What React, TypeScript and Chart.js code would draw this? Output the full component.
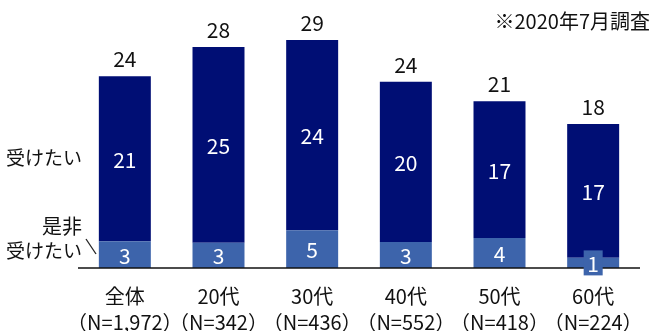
import React, { useEffect, useRef } from "react";
import { Chart, registerables } from "chart.js";

Chart.register(...registerables);

const categories = ["全体", "20代", "30代", "40代", "50代", "60代"];
const sampleSizes = ["（N=1,972）", "（N=342）", "（N=436）", "（N=552）", "（N=418）", "（N=224）"];
// 是非受けたい (bottom segment)
const eagerValues = [3.4, 3.2, 4.8, 3.3, 3.8, 1.3];
// 受けたい (top segment)
const wantValues = [21.0, 24.9, 24.2, 20.4, 17.4, 17.0];
const seriesNames = ["是非受けたい", "受けたい"];
const noteText = "※2020年7月調査";

const DARK = "#000e74";
const LIGHT = "#3d64ab";
const FONT = '"Noto Sans CJK JP", "Noto Sans", sans-serif';

const labelPlugin = {
  id: "customLabels",
  afterDatasetsDraw(chart: any) {
    const ctx = chart.ctx as CanvasRenderingContext2D;
    const area = chart.chartArea;
    const m0 = chart.getDatasetMeta(0);
    const m1 = chart.getDatasetMeta(1);
    ctx.save();

    // axis line
    ctx.strokeStyle = "#111";
    ctx.lineWidth = 1.6;
    ctx.beginPath();
    ctx.moveTo(area.left, area.bottom);
    ctx.lineTo(area.right, area.bottom);
    ctx.stroke();

    ctx.textAlign = "center";
    ctx.textBaseline = "middle";

    categories.forEach((cat, i) => {
      const b0 = m0.data[i];
      const b1 = m1.data[i];
      ctx.font = `21px ${FONT}`;
      // bottom segment label
      const mid0 = (b0.y + b0.base) / 2;
      const h0 = Math.abs(b0.base - b0.y);
      if (h0 < 20) {
        ctx.fillStyle = LIGHT;
        ctx.fillRect(b0.x - 9.5, mid0 - 12.5, 19, 25);
      }
      ctx.fillStyle = "#ffffff";
      ctx.fillText(String(Math.round(eagerValues[i])), b0.x, mid0 + 1);
      // top segment label
      const mid1 = (b1.y + b1.base) / 2;
      ctx.fillText(String(Math.round(wantValues[i])), b1.x, mid1 + 1);
      // total
      ctx.fillStyle = "#111";
      const total = eagerValues[i] + wantValues[i];
      ctx.fillText(String(Math.round(total)), b1.x, b1.y - 17);
      // x labels
      ctx.font = `20px ${FONT}`;
      ctx.fillText(cat, b1.x, area.bottom + 28);
      ctx.fillText(sampleSizes[i], b1.x, area.bottom + 54);
    });

    // series labels on the left
    ctx.textAlign = "right";
    ctx.fillStyle = "#111";
    const firstTop = m1.data[0];
    ctx.font = `19px ${FONT}`;
    ctx.fillText(seriesNames[1], 82, (firstTop.y + firstTop.base) / 2 - 1);
    ctx.font = `20px ${FONT}`;
    ctx.fillText("是非", 82, 226);
    ctx.font = `19px ${FONT}`;
    ctx.fillText("受けたい", 82, 251);
    ctx.strokeStyle = "#222";
    ctx.lineWidth = 1.3;
    ctx.beginPath();
    ctx.moveTo(86, 239);
    ctx.lineTo(96, 254);
    ctx.stroke();

    // note
    ctx.font = `20px ${FONT}`;
    ctx.textAlign = "right";
    ctx.fillText(noteText, 650, 21);
    ctx.restore();
  },
};

export default function App() {
  const ref = useRef<HTMLCanvasElement>(null);
  useEffect(() => {
    if (!ref.current) return;
    const chart = new Chart(ref.current, {
      type: "bar",
      data: {
        labels: categories,
        datasets: [
          {
            label: seriesNames[0],
            data: eagerValues,
            backgroundColor: LIGHT,
            borderWidth: 0,
            barPercentage: 0.555,
            categoryPercentage: 1,
          },
          {
            label: seriesNames[1],
            data: wantValues,
            backgroundColor: DARK,
            borderWidth: 0,
            barPercentage: 0.555,
            categoryPercentage: 1,
          },
        ],
      },
      options: {
        responsive: false,
        animation: false,
        layout: { padding: { left: 78, right: 16, top: 40, bottom: 63 } },
        plugins: {
          legend: { display: false },
          tooltip: { enabled: false },
          title: { display: false },
        },
        scales: {
          x: { stacked: true, display: false },
          y: { stacked: true, display: false, min: 0, max: 29 },
        },
      },
      plugins: [labelPlugin],
    });
    return () => chart.destroy();
  }, []);
  return (
    <canvas
      ref={ref}
      width={656}
      height={331}
      style={{ position: "absolute", left: 0, top: 0, width: 656, height: 331 }}
    />
  );
}
